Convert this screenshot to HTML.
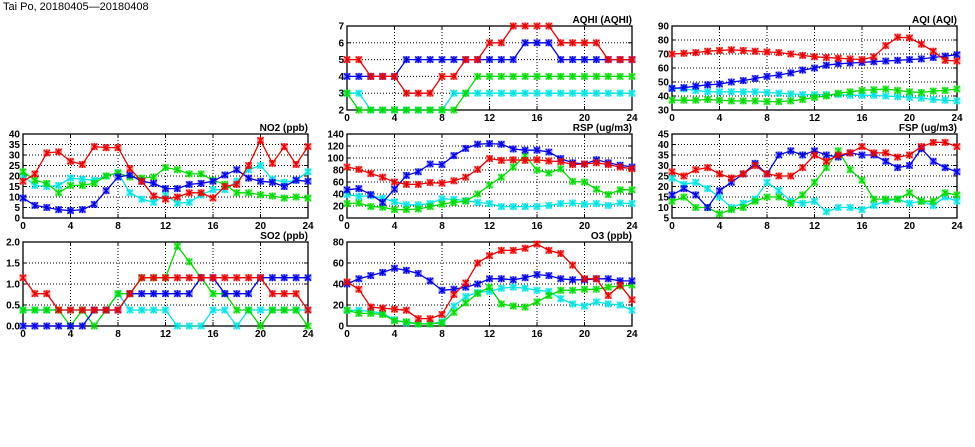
<!DOCTYPE html>
<html><head><meta charset="utf-8">
<style>
body{margin:0;background:#fff;}
svg{display:block;font-family:"Liberation Sans",sans-serif;}
.tk{font-size:10px;font-weight:bold;fill:#000;}
.ttl{font-size:10px;font-weight:bold;fill:#000;}
</style></head>
<body>
<svg id="chart" width="975" height="447" viewBox="0 0 975 447" xmlns="http://www.w3.org/2000/svg">
<text x="3" y="10" font-size="11">Tai Po, 20180405—20180408</text>
</svg>
<script>
const hours = [0,1,2,3,4,5,6,7,8,9,10,11,12,13,14,15,16,17,18,19,20,21,22,23,24];
const seriesColors = ["#00e5e5","#00dd00","#0000ee","#ee0000"];
const seriesNames = ["cyan","green","blue","red"];

const no2Red = [17.5,21,31,31.5,27,25.5,34,33.5,33.5,23.5,17.5,10.5,9,10,12,12,9.5,15,16,25,37,26,34,25.5,34];
const no2Blue = [9.5,6,5,4,3.5,4,6.5,13,19.5,20.5,17.5,16.5,14,14,16,16.5,17.5,20.5,23,19,17.5,17,15,18,17.5];
const no2Green = [22,18,16.5,12,15.5,15.5,16.5,20,21.5,19.5,19,19.5,24,23,21,21,18,16,12,12,11,10.5,9.5,10,9.5];
const no2Cyan = [20,15.5,15,15.5,19,18.5,18,20,21.5,12,9,7.5,11,7,7.5,11,13.5,13.5,17.5,23,25,18.5,17,18,22];

const aqhiRed = [5,5,4,4,4,3,3,3,4,4,5,5,6,6,7,7,7,7,6,6,6,6,5,5,5];
const aqhiBlue = [4,4,4,4,4,5,5,5,5,5,5,5,5,5,5,6,6,6,5,5,5,5,5,5,5];
const aqhiGreen = [3,2,2,2,2,2,2,2,2,2,3,4,4,4,4,4,4,4,4,4,4,4,4,4,4];
const aqhiCyan = [3,3,2,2,2,2,2,2,2,3,3,3,3,3,3,3,3,3,3,3,3,3,3,3,3];

const aqiRed = [70,70.5,71,72,72.5,73,72.5,72,71.5,71,70,69,68,67.5,67,66.5,66,68,76,82,81.5,77,72,65.5,65];
const aqiBlue = [45.5,46,47,48,48.5,50,51,52.5,54,55,56.5,58.5,60,62,63,63.5,64,64.5,65,65.5,66,66.5,67.5,68.5,69.5];
const aqiGreen = [37,37,37,37.5,37,36.5,36.5,36.5,36,36,36.5,37.5,39,40,42,43,44,44.5,45,44,43,42.5,43.5,44,45];
const aqiCyan = [45.5,45,44,43,43,43,43,43,42.5,42,41.5,41,41,41,41,40.5,40.5,40.5,40,39.5,39,38.5,37.5,37,36.5];

const rspRed = [85,81,74,68,60,56,56,59,58,62,68,81,99,96,97,96,97,95,94,89,90,92,89,85,82];
const rspBlue = [47,49,39,26,48,71,77,90,89,104,116,123,124,123,115,113,113,110,99,92,90,97,92,88,85];
const rspGreen = [24,25,19,18,14,14,15,19,23,26,28,40,55,68,85,104,80,75,82,61,60,48,39,47,47];
const rspCyan = [39,36,37,33,27,22,22,24,32,31,29,26,24,19,19,19,19,21,24,25,23,24,21,25,24];

const fspRed = [27,25,28,29,26,24,26,30,26,25,25,29,35,32,35,36,39,36,36,34,35,39,41,41,39];
const fspBlue = [16,19,16,10,18,22,26,31,26,35,37,35,37,35,34,36,35,35,32,29,30,38,32,29,27];
const fspGreen = [13,15,10,10,7,9,10,13,15,15,12,16,22,29,37,28,23,14,14,14,17,13,13,17,16];
const fspCyan = [24,21,22,19,15,10,12,14,22,18,13,12,13,8,10,10,9,11,13,14,12,13,11,15,13];

const so2Red = [1.15,0.77,0.77,0.38,0.38,0.38,0.38,0.38,0.38,0.77,1.15,1.15,1.15,1.15,1.15,1.15,1.15,1.15,1.15,1.15,1.15,0.77,0.77,0.77,0.38];
const so2Blue = [0,0,0,0,0,0,0.38,0.38,0.38,0.77,0.77,0.77,0.77,0.77,0.77,1.15,1.15,0.77,0.77,0.77,1.15,1.15,1.15,1.15,1.15];
const so2Green = [0.38,0.38,0.38,0.38,0,0.38,0,0.38,0.77,0.77,1.15,1.15,1.15,1.9,1.53,1.15,0.77,0.77,0.38,0.38,0,0.38,0.38,0.38,0];
const so2Cyan = [0.38,0.38,0.38,0.38,0.38,0.38,0.38,0.38,0.77,0.38,0.38,0.38,0.38,0,0,0,0.38,0.38,0,0.38,0.38,0.38,0.38,0.38,0.38];

const o3Red = [42,35,18,17,16,15,7,7,11,30,41,60,67,72,72,74,78,72,69,58,45,45,29,39,25];
const o3Blue = [40,45,48,51,55,53,50,43,34,35,37,40,45,45,44,46,49,48,45,44,44,45,45,43,43];
const o3Green = [15,12,12,11,5,4,2,2,3,13,22,31,37,21,19,18,23,29,34,34,35,35,37,38,39];
const o3Cyan = [15,15,14,12,6,3,2,2,4,19,28,32,33,36,37,36,34,33,26,21,19,23,21,20,15];

const xTicks = [0,4,8,12,16,20,24];
const no2Ticks = [0,5,10,15,20,25,30,35,40];
const aqhiTicks = [2,3,4,5,6,7];
const aqiTicks = [30,40,50,60,70,80,90];
const rspTicks = [0,20,40,60,80,100,120,140];
const fspTicks = [5,10,15,20,25,30,35,40,45];
const so2Ticks = ["0.0","0.5","1.0","1.5","2.0"];
const o3Ticks = [0,20,40,60,80];

const NS = "http://www.w3.org/2000/svg";
const svg = document.getElementById("chart");
function mk(tag, attrs, parent){
  const e = document.createElementNS(NS, tag);
  for (const k in attrs) e.setAttribute(k, attrs[k]);
  (parent||svg).appendChild(e);
  return e;
}

function panel(name, title, left, top, ticks, series){
  const W = 285, H = 84;
  const yMin = parseFloat(ticks[0]), yMax = parseFloat(ticks[ticks.length-1]);
  const xs = v => left + v / 24 * W;
  const ys = v => top + H - (v - yMin) / (yMax - yMin) * H;
  const g = mk("g", {});
  
  
  // grid
  ticks.forEach(t => {
    const v = parseFloat(t);
    if (v > yMin && v < yMax) {
      const l = mk("line", {x1:left, x2:left+W, y1:ys(v), y2:ys(v), stroke:"#000", "stroke-width":1, "stroke-dasharray":"1,2"}, g);
      
      
    }
    mk("line", {x1:left, x2:left+4, y1:ys(v), y2:ys(v), stroke:"#000"}, g);
    mk("line", {x1:left+W-4, x2:left+W, y1:ys(v), y2:ys(v), stroke:"#000"}, g);
    const tl = mk("text", {x:left-3, y:ys(v)+3.5, "text-anchor":"end", class:"tk"}, g);
    tl.textContent = t;
    
    
  });
  xTicks.forEach(t => {
    if (t > 0 && t < 24) {
      const l = mk("line", {x1:xs(t), x2:xs(t), y1:top, y2:top+H, stroke:"#000", "stroke-width":1, "stroke-dasharray":"1,2"}, g);
      
      
    }
    mk("line", {x1:xs(t), x2:xs(t), y1:top+H-4, y2:top+H, stroke:"#000"}, g);
    mk("line", {x1:xs(t), x2:xs(t), y1:top, y2:top+4, stroke:"#000"}, g);
    const tl = mk("text", {x:xs(t), y:top+H+11, "text-anchor":"middle", class:"tk"}, g);
    tl.textContent = t;
    
    
  });
  const frame = mk("rect", {x:left, y:top, width:W, height:H, fill:"none", stroke:"#000", "stroke-width":1.3}, g);
  
  
  const tt = mk("text", {x:left+W, y:top-3, "text-anchor":"end", class:"ttl"}, g);
  tt.textContent = title;
  
  
  // series
  series.forEach((vals, i) => {
    const c = seriesColors[i];
    const sg = mk("g", {}, g);
    
    
    const pts = vals.map((v, k) => xs(hours[k]).toFixed(1) + "," + ys(v).toFixed(1)).join(" ");
    const pl = mk("polyline", {points:pts, fill:"none", stroke:c, "stroke-width":1.3}, sg);
    
    
    vals.forEach((v, k) => {
      const cx = xs(hours[k]), cy = ys(v);
      const m = mk("g", {}, sg);
      
      
      mk("rect", {x:cx-3.5, y:cy-3.5, width:7, height:7, fill:c, opacity:0.45}, m);
      mk("path", {d:`M${cx-3},${cy-3}L${cx+3},${cy+3}M${cx-3},${cy+3}L${cx+3},${cy-3}M${cx},${cy-3.5}L${cx},${cy+3.5}`, stroke:c, "stroke-width":1.2}, m);
    });
  });
}

const ord = (r,b,g,c) => [c,g,b,r];
panel("aqhi","AQHI (AQHI)",347,26,aqhiTicks,ord(aqhiRed,aqhiBlue,aqhiGreen,aqhiCyan));
panel("aqi","AQI (AQI)",672,26,aqiTicks,ord(aqiRed,aqiBlue,aqiGreen,aqiCyan));
panel("no2","NO2 (ppb)",23,134,no2Ticks,ord(no2Red,no2Blue,no2Green,no2Cyan));
panel("rsp","RSP (ug/m3)",347,134,rspTicks,ord(rspRed,rspBlue,rspGreen,rspCyan));
panel("fsp","FSP (ug/m3)",672,134,fspTicks,ord(fspRed,fspBlue,fspGreen,fspCyan));
panel("so2","SO2 (ppb)",23,242,so2Ticks,ord(so2Red,so2Blue,so2Green,so2Cyan));
panel("o3","O3 (ppb)",347,242,o3Ticks,ord(o3Red,o3Blue,o3Green,o3Cyan));
</script>
</body></html>
